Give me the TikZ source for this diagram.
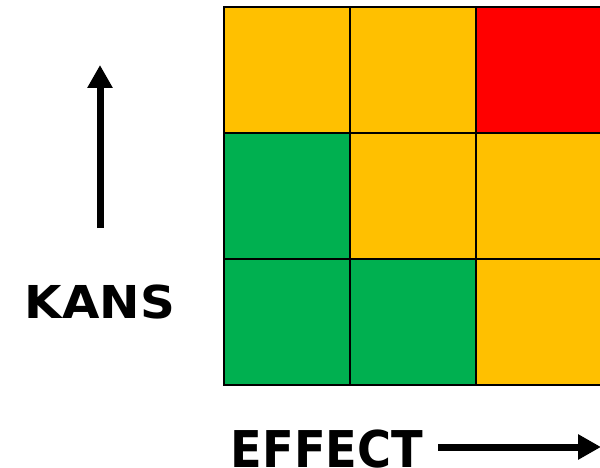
\documentclass[tikz,border=0pt]{standalone}
\usepackage{fontspec}
\setmainfont{DejaVu Sans}
\usetikzlibrary{arrows.meta}
\definecolor{riskyellow}{HTML}{FFC000}
\definecolor{riskgreen}{HTML}{00B050}
\definecolor{riskred}{HTML}{FF0000}
\tikzset{
  cell/.style={draw=black, line width=2.7pt, minimum width=126pt, minimum height=126pt, inner sep=0pt, outer sep=0pt, anchor=north west},
  axisarrow/.style={line width=7pt, -{Triangle[width=24pt,length=23pt]}},
  axislabel/.style={font=\bfseries, inner sep=0pt, anchor=base}
}
\begin{document}
\begin{tikzpicture}[x=1pt, y=-1pt]
\useasboundingbox (0,0) rectangle (600,468);
% risk matrix cells (rows top to bottom, columns left to right)
\node[cell, fill=riskyellow] (c11) at (224,7) {};
\node[cell, fill=riskyellow] (c12) at (350,7) {};
\node[cell, fill=riskred]    (c13) at (476,7) {};
\node[cell, fill=riskgreen]  (c21) at (224,133) {};
\node[cell, fill=riskyellow] (c22) at (350,133) {};
\node[cell, fill=riskyellow] (c23) at (476,133) {};
\node[cell, fill=riskgreen]  (c31) at (224,259) {};
\node[cell, fill=riskgreen]  (c32) at (350,259) {};
\node[cell, fill=riskyellow] (c33) at (476,259) {};
% axis labels
\node[axislabel, font=\bfseries\fontsize{45.3}{45}\selectfont] (kans) at (100,318) {\scalebox{1.067}[1]{KANS}};
\node[axislabel, font=\bfseries\fontsize{50.7}{50}\selectfont] (effect) at (327,467) {\scalebox{0.914}[1]{EFFECT}};
% axis arrows
\coordinate (kansfrom) at (100,228);
\coordinate (kansto) at (100,65);
\coordinate (effectfrom) at (438,447);
\coordinate (effectto) at (601,447);
\draw[axisarrow] (kansfrom) -- (kansto);
\draw[axisarrow] (effectfrom) -- (effectto);
\end{tikzpicture}
\end{document}
